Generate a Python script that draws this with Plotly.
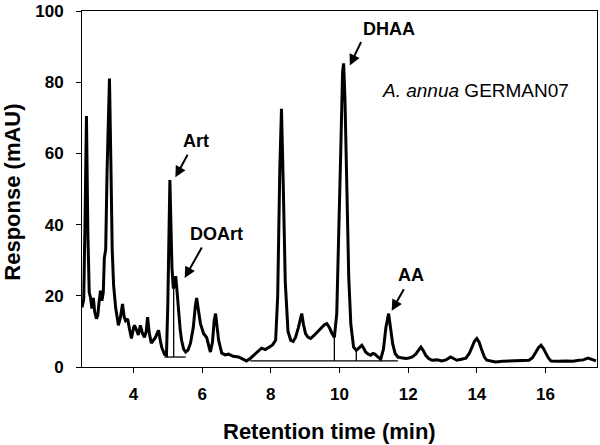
import plotly.graph_objects as go

# Chromatogram trace (retention time in min, response in mAU)
time_min = [2.50, 2.55, 2.59, 2.63, 2.67, 2.71, 2.75, 2.79, 2.83, 2.87, 2.92, 2.96, 3.00, 3.04, 3.08, 3.12,
            3.15, 3.19, 3.23, 3.30, 3.34, 3.38, 3.42, 3.48, 3.56, 3.62, 3.68, 3.73, 3.77, 3.83, 3.88, 3.94,
            4.00, 4.03, 4.09, 4.14, 4.20, 4.26, 4.32, 4.37, 4.41, 4.46, 4.52, 4.58, 4.64, 4.69, 4.73, 4.78,
            4.82, 4.90, 4.96, 5.00, 5.03, 5.06, 5.09, 5.12, 5.16, 5.20, 5.23, 5.27, 5.31, 5.36, 5.40, 5.46,
            5.52, 5.59, 5.66, 5.74, 5.80, 5.84, 5.89, 5.95, 6.04, 6.13, 6.19, 6.24, 6.30, 6.35, 6.39, 6.43,
            6.48, 6.57, 6.67, 6.77, 6.90, 7.06, 7.18, 7.29, 7.40, 7.50, 7.62, 7.73, 7.84, 7.94, 8.05, 8.14,
            8.20, 8.26, 8.31, 8.36, 8.42, 8.50, 8.58, 8.65, 8.72, 8.80, 8.86, 8.90, 8.95, 9.01, 9.08, 9.16,
            9.25, 9.34, 9.42, 9.48, 9.56, 9.63, 9.70, 9.77, 9.85, 9.92, 9.98, 10.04, 10.09, 10.12, 10.16, 10.21,
            10.27, 10.33, 10.41, 10.49, 10.57, 10.65, 10.71, 10.76, 10.84, 10.91, 10.97, 11.03, 11.10, 11.20,
            11.28, 11.35, 11.43, 11.49, 11.55, 11.62, 11.70, 11.80, 11.93, 12.02, 12.12, 12.22, 12.30, 12.37,
            12.44, 12.51, 12.60, 12.69, 12.85, 12.98, 13.10, 13.24, 13.32, 13.42, 13.55, 13.68, 13.78, 13.85,
            13.93, 14.00, 14.07, 14.15, 14.22, 14.29, 14.40, 14.55, 14.75, 15.02, 15.25, 15.40, 15.52, 15.62,
            15.72, 15.80, 15.87, 15.94, 16.01, 16.08, 16.16, 16.35, 16.60, 16.80, 16.97, 17.10, 17.24, 17.35,
            17.47]
response_mau = [16.7, 19.0, 42.0, 70.5, 38.0, 21.0, 19.4, 16.4, 19.4, 15.5, 13.6, 14.5, 18.5, 21.4, 18.6, 21.0,
                30.6, 33.0, 55.0, 81.0, 58.0, 33.0, 23.0, 16.7, 11.7, 14.0, 17.7, 14.0, 13.0, 13.5, 10.8, 8.0,
                11.0, 11.7, 10.3, 9.0, 11.7, 9.5, 8.3, 10.0, 14.0, 9.5, 6.7, 7.5, 8.3, 9.5, 10.3, 7.5,
                5.6, 3.6, 3.3, 18.0, 45.0, 52.5, 40.0, 28.0, 22.0, 24.0, 25.5, 21.0, 15.8, 10.5, 7.5, 5.0,
                4.2, 4.8, 6.7, 11.0, 17.0, 19.4, 16.0, 12.2, 9.4, 8.3, 6.0, 4.2, 7.0, 13.0, 15.0, 12.0,
                7.5, 3.9, 3.4, 3.6, 3.0, 2.8, 2.3, 1.7, 2.4, 3.3, 4.2, 5.3, 4.9, 5.6, 6.2, 7.5,
                20.0, 55.0, 72.5, 52.0, 24.0, 10.0, 7.5, 7.2, 8.3, 11.0, 14.0, 15.0, 12.0, 9.4, 8.4, 8.0,
                8.8, 9.7, 10.6, 11.4, 11.9, 12.2, 11.2, 9.7, 8.3, 15.0, 35.0, 62.0, 83.0, 85.3, 75.0, 48.0,
                25.0, 12.0, 5.6, 4.7, 5.4, 6.1, 5.2, 4.2, 3.6, 3.3, 3.8, 3.6, 3.0, 2.2,
                5.0, 11.0, 15.0, 11.0, 6.5, 3.8, 2.8, 2.6, 2.4, 2.5, 2.8, 3.6, 4.8, 5.6,
                4.6, 3.3, 2.4, 1.9, 2.0, 1.7, 2.0, 2.8, 2.4, 1.9, 2.2, 2.5, 3.8, 5.6,
                7.2, 8.0, 6.9, 4.6, 2.8, 1.9, 1.6, 1.4, 1.6, 1.7, 1.6, 1.8, 1.9, 2.6,
                4.2, 5.5, 6.1, 5.2, 3.9, 2.6, 1.7, 1.6, 1.7, 1.6, 1.9, 2.0, 2.5, 2.1,
                1.7]

# Integration baselines and drop lines (None separates segments)
baseline_x = [4.90, 5.52, None, 5.17, 5.17, None, 7.40, 11.70, None, 9.85, 9.85, None, 10.49, 10.49]
baseline_y = [2.8, 2.8, None, 2.8, 22.0, None, 1.7, 1.7, None, 1.7, 8.3, None, 1.7, 4.7]

# Peak labels: text, label position, arrow head position
peak_names = ["Art", "DOArt", "DHAA", "AA"]
label_x = [5.81, 6.42, 11.43, 12.08]
label_y = [63.6, 37.5, 95.0, 25.8]
arrow_x = [5.22, 5.49, 10.30, 11.52]
arrow_y = [53.3, 25.0, 84.7, 15.8]
arrow_dx = [13, 18, 12, 13]
arrow_dy = [-24, -32, -25, -23]

x_ticks = [4, 6, 8, 10, 12, 14, 16]
y_ticks = [0, 20, 40, 60, 80, 100]

FONT = "Arial, 'Liberation Sans', sans-serif"

fig = go.Figure()
fig.add_trace(go.Scatter(x=baseline_x, y=baseline_y, mode="lines",
                         line=dict(color="black", width=1.3), hoverinfo="skip", showlegend=False))
fig.add_trace(go.Scatter(x=time_min, y=response_mau, mode="lines",
                         line=dict(color="black", width=3), showlegend=False))

for name, lx, ly, ax_, ay_, dx, dy in zip(peak_names, label_x, label_y, arrow_x, arrow_y, arrow_dx, arrow_dy):
    fig.add_annotation(x=lx, y=ly, text=name, showarrow=False,
                       font=dict(family=FONT, size=18, color="black", weight="bold"),
                       xanchor="center", yanchor="middle")
    fig.add_annotation(x=ax_, y=ay_, text="", showarrow=True, ax=dx, ay=dy,
                       arrowhead=2, arrowsize=1.1, arrowwidth=2, arrowcolor="black")

fig.add_annotation(x=13.97, y=77.8, text="<i>A. annua</i> GERMAN07", showarrow=False,
                   font=dict(family=FONT, size=19, color="black"), xanchor="center", yanchor="middle")

fig.add_annotation(xref="paper", yref="paper", x=0.481, y=-0.18, text="Retention time (min)",
                   showarrow=False, font=dict(family=FONT, size=22, color="black", weight="bold"),
                   xanchor="center", yanchor="middle")
fig.add_annotation(xref="paper", yref="paper", x=-0.1357, y=0.49, text="Response (mAU)", textangle=-90,
                   showarrow=False, font=dict(family=FONT, size=22, color="black", weight="bold"),
                   xanchor="center", yanchor="middle")

fig.update_layout(
    width=600, height=445,
    margin=dict(l=82, r=2, t=7, b=78),
    paper_bgcolor="white", plot_bgcolor="white",
    font=dict(family=FONT, color="black"),
)
fig.update_xaxes(range=[2.5, 17.5], tickvals=x_ticks, ticks="outside", ticklen=5, tickwidth=1,
                 tickcolor="black", showline=True, linecolor="black", linewidth=1, mirror=True,
                 showgrid=False, zeroline=False, ticklabelstandoff=7, ticklabeloverflow="allow",
                 tickfont=dict(family=FONT, size=17, color="black", weight="bold"))
fig.update_yaxes(range=[0, 100], tickvals=y_ticks, ticks="outside", ticklen=5, tickwidth=1,
                 tickcolor="black", showline=True, linecolor="black", linewidth=1, mirror=True,
                 showgrid=False, zeroline=False, ticklabelstandoff=9, ticklabeloverflow="allow",
                 tickfont=dict(family=FONT, size=17, color="black", weight="bold"))

fig.write_html("out.html", config={"displayModeBar": False},
               post_script="document.body.style.margin='0';document.body.style.padding='0';")
